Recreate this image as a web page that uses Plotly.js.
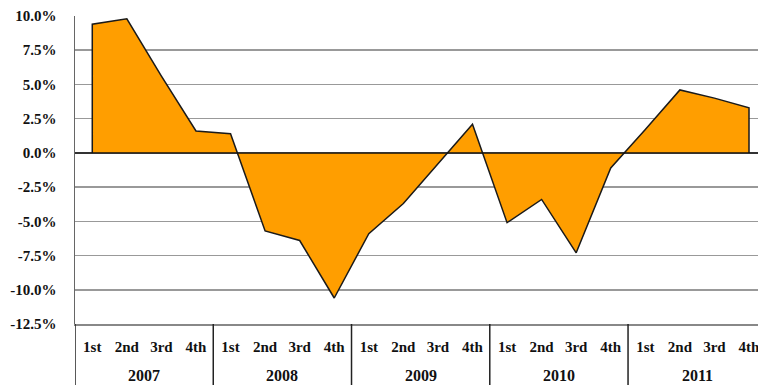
<!DOCTYPE html>
<html>
<head>
<meta charset="utf-8">
<script src="https://cdn.plot.ly/plotly-3.0.1.min.js"></script>
<style>html,body{margin:0;padding:0;background:#fff;}#chart{width:758px;height:385px;}</style>
</head>
<body>
<div id="chart"></div>
<script>
var years = ["2007", "2008", "2009", "2010", "2011"];
var quarters = ["1st", "2nd", "3rd", "4th"];
var values = [9.4, 9.8, 5.6, 1.6, 1.4, -5.7, -6.4, -10.6, -5.9, -3.7, -0.8, 2.1, -5.1, -3.4, -7.3, -1.1, 1.7, 4.6, 4.0, 3.3];
var yTicks = [10, 7.5, 5, 2.5, 0, -2.5, -5, -7.5, -10, -12.5];

var n = values.length;
var idx = values.map(function (v, i) { return i; });
// close the area down to zero at both ends so the outline is drawn
var xs = [idx[0]].concat(idx, [idx[n - 1]]);
var ys = [0].concat(values, [0]);

var tickText = [];
years.forEach(function () { quarters.forEach(function (q) { tickText.push(q); }); });

var font = {family: "'Liberation Serif', serif", size: 15, color: "#111", weight: "bold"};
var yearFont = {family: "'Liberation Serif', serif", size: 16, color: "#111", weight: "bold"};

var trace = {
  x: xs, y: ys, type: "scatter", mode: "lines",
  fill: "tozeroy", fillcolor: "#FF9E00",
  line: {color: "#1a1a1a", width: 1.5},
  hoverinfo: "skip"
};

var plotBottomPx = 61, plotHeight = 385 - 16 - 61;
var shapes = [];
var annotations = [];
years.forEach(function (yr, g) {
  var start = g * quarters.length - 0.5;
  shapes.push({type: "line", xref: "x", yref: "paper", x0: start, x1: start, y0: 0, y1: -plotBottomPx / plotHeight,
    line: {color: "#222", width: 1.5}});
  annotations.push({xref: "x", yref: "paper", x: start + quarters.length / 2, y: -51 / plotHeight,
    text: yr, showarrow: false, yanchor: "middle", xanchor: "center", font: yearFont});
});
// zero line
shapes.push({type: "line", xref: "paper", yref: "y", x0: 0, x1: 1, y0: 0, y1: 0, line: {color: "#111", width: 1.5}});

var layout = {
  width: 758, height: 385,
  margin: {l: 75, r: 0, t: 16, b: 61},
  paper_bgcolor: "#fff", plot_bgcolor: "#fff",
  showlegend: false,
  xaxis: {
    range: [-0.5, 19.26], showgrid: false, zeroline: false,
    tickvals: idx, ticktext: tickText, ticks: "", tickfont: font,
    ticklabelstandoff: 8, ticklabeloverflow: "allow",
    showline: true, linecolor: "#888", linewidth: 1.5
  },
  yaxis: {
    range: [-12.5, 10], tickvals: yTicks,
    ticktext: yTicks.map(function (v) { return v.toFixed(1) + "%"; }),
    showgrid: true, gridcolor: "#999", gridwidth: 1.5,
    zeroline: false, showline: true, linecolor: "#666", linewidth: 1.5,
    ticks: "", tickfont: font, ticklabelstandoff: 14
  },
  shapes: shapes,
  annotations: annotations
};

Plotly.newPlot("chart", [trace], layout, {staticPlot: true});
</script>
</body>
</html>
